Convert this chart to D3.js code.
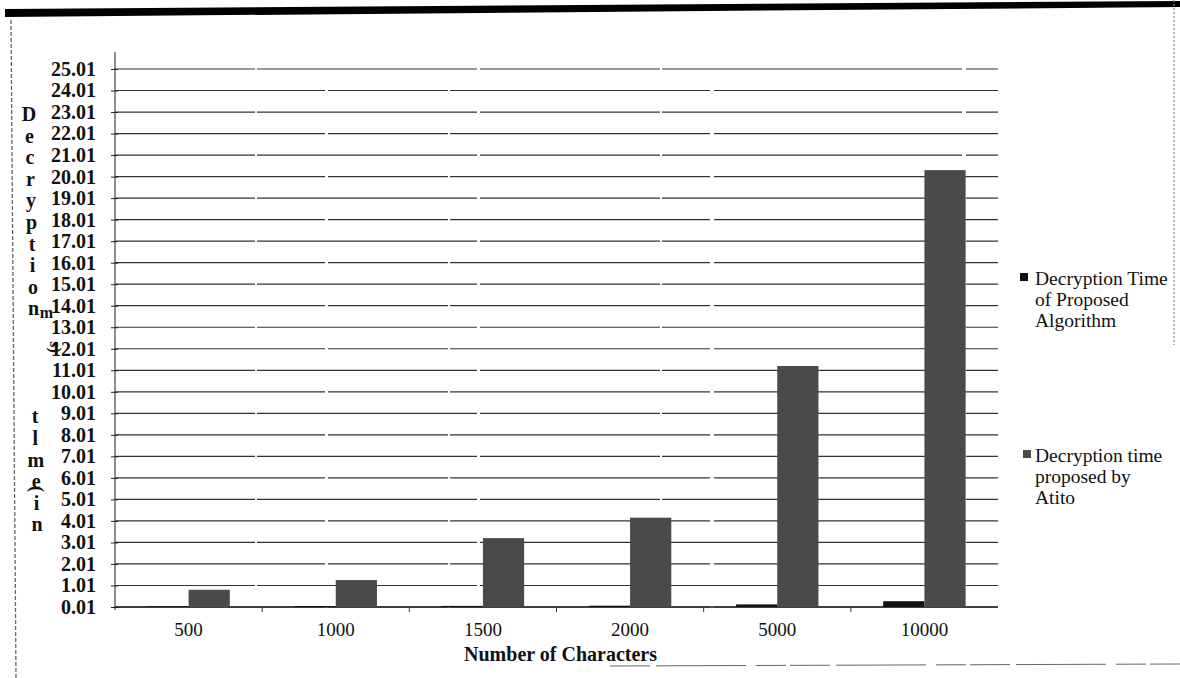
<!DOCTYPE html>
<html>
<head>
<meta charset="utf-8">
<script src="https://cdn.jsdelivr.net/npm/d3@7"></script>
<style>
  html, body { margin: 0; padding: 0; background: #fff; }
  svg { display: block; }
  text { font-family: "Liberation Serif", "Times New Roman", serif; fill: #111; }
</style>
</head>
<body>
<svg id="chart" width="1180" height="678"></svg>
<script>
// ---- data ----
const categories = ["500", "1000", "1500", "2000", "5000", "10000"];
const proposedValues = [0.03, 0.04, 0.05, 0.06, 0.12, 0.27];
const atitoValues = [0.8, 1.25, 3.2, 4.15, 11.2, 20.3];
const seriesNames = ["Decryption Time of Proposed Algorithm", "Decryption time proposed by Atito"];
const legendLines = [["Decryption Time", "of Proposed", "Algorithm"], ["Decryption time", "proposed by", "Atito"]];
const yTickValues = d3.range(0, 26).map(i => i + 0.01);
const yTickLabels = yTickValues.map(v => v.toFixed(2));
const yTitleLetters = ["D","e","c","r","y","p","t","i","o","n","","","","","t","l","m","e","i","n"];
const xTitle = "Number of Characters";

const svg = d3.select("#chart");

// scan frame decoration
svg.append("polygon").attr("points", "5,9 1180,1 1180,7 5,17").attr("fill", "#000");
svg.append("line").attr("x1", 11).attr("y1", 20).attr("x2", 16).attr("y2", 678)
  .attr("stroke", "#666").attr("stroke-width", 1.3).attr("stroke-dasharray", "4 2");
svg.append("line").attr("x1", 1174).attr("y1", 0).attr("x2", 1174).attr("y2", 345)
  .attr("stroke", "#888").attr("stroke-width", 1.2).attr("stroke-dasharray", "2 2");
svg.append("line").attr("x1", 610).attr("y1", 666).attr("x2", 1180).attr("y2", 664)
  .attr("stroke", "#666").attr("stroke-width", 1).attr("stroke-dasharray", "40 6 90 10 30 4");

const pLeft = 115, pRight = 998, pTop = 69, pBottom = 607;

const x0 = d3.scaleBand().domain(categories).range([pLeft, pRight]).paddingInner(0.44).paddingOuter(0.22);
const x1 = d3.scaleBand().domain([0, 1]).range([0, x0.bandwidth()]);
const y = d3.scaleLinear().domain([0.01, 25.01]).range([pBottom, pTop]);
const xBound = d3.scaleBand().domain(categories).range([pLeft, pRight]);

// gridlines
svg.append("g").selectAll("line").data(yTickValues).join("line")
  .attr("x1", pLeft).attr("x2", pRight)
  .attr("y1", d => y(d)).attr("y2", d => y(d))
  .attr("stroke", "#333").attr("stroke-width", 1.2)
  .attr("stroke-dasharray", (d, i) => i % 2 ? "140 2 220 3 180 2 300 4" : "210 3 120 2 260 4 330 2");

// y axis
const yAxis = d3.axisLeft(y).tickValues(yTickValues).tickFormat((d, i) => yTickLabels[i]).tickSize(5).tickPadding(14);
const yg = svg.append("g").attr("transform", `translate(${pLeft},0)`).call(yAxis);
yg.select(".domain").attr("stroke", "#444").attr("stroke-width", 1.2).attr("d", `M0,${pTop - 17}V${pBottom + 3}`);
yg.selectAll(".tick line").attr("stroke", "#222").attr("x2", -4).attr("x1", 3);
yg.selectAll(".tick text").attr("font-family", "Liberation Serif").attr("font-weight", "bold")
  .attr("font-size", 20).attr("fill", "#111");

// x axis
const xAxis = d3.axisBottom(x0).tickSize(0).tickPadding(16);
const xg = svg.append("g").attr("transform", `translate(0,${pBottom})`).call(xAxis);
xg.select(".domain").attr("stroke", "#222").attr("stroke-width", 1.3).attr("d", `M${pLeft},0H${pRight}`);
xg.selectAll(".tick text").attr("font-family", "Liberation Serif").attr("font-size", 19).attr("fill", "#111");
// category boundary ticks
svg.append("g").selectAll("line").data(categories.slice(1)).join("line")
  .attr("x1", d => xBound(d)).attr("x2", d => xBound(d))
  .attr("y1", pBottom).attr("y2", pBottom + 5).attr("stroke", "#333");

// bars
const colors = ["#111", "#4a4a4a"];
const groups = svg.append("g").selectAll("g").data(categories).join("g")
  .attr("transform", d => `translate(${x0(d)},0)`);
groups.selectAll("rect").data((d, i) => [proposedValues[i], atitoValues[i]]).join("rect")
  .attr("x", (d, j) => x1(j)).attr("width", x1.bandwidth())
  .attr("y", d => y(d + 0.01)).attr("height", d => y(0.01) - y(d + 0.01))
  .attr("fill", (d, j) => colors[j]);

// x title
svg.append("text").attr("x", (pLeft + pRight) / 2 + 4).attr("y", 661).attr("text-anchor", "middle")
  .attr("font-weight", "bold").attr("font-size", 20).text(xTitle);

// y title, stacked letters
svg.append("g").selectAll("text").data(yTitleLetters).join("text")
  .attr("x", (d, i) => i < 10 ? 29 + i * 0.5 : 35 + (i - 14) * 0.4)
  .attr("y", (d, i) => 121 + i * 21.6)
  .attr("text-anchor", "middle").attr("font-weight", "bold").attr("font-size", 20).text(d => d);
// mangled "(ms)" fragments of the title
svg.append("text").attr("x", 37).attr("y", 495).attr("text-anchor", "middle")
  .attr("font-weight", "bold").attr("font-size", 18).attr("transform", "rotate(90,37,489)").text("(");
svg.append("text").attr("x", 46.5).attr("y", 318).attr("text-anchor", "middle")
  .attr("font-weight", "bold").attr("font-size", 16).text("m");
svg.append("text").attr("x", 56).attr("y", 353).attr("text-anchor", "middle")
  .attr("font-weight", "bold").attr("font-size", 16).attr("transform", "rotate(90,56,347)").text("s)");

// legend
const legendPos = [{x: 1020, y: 285}, {x: 1023, y: 462}];
seriesNames.forEach((name, k) => {
  const g = svg.append("g").attr("class", "legend");
  g.append("rect").attr("x", legendPos[k].x).attr("y", legendPos[k].y - 12)
    .attr("width", 8).attr("height", 8).attr("fill", colors[k]);
  g.selectAll("text").data(legendLines[k]).join("text")
    .attr("x", 1035).attr("y", (d, i) => legendPos[k].y + i * 20.8)
    .attr("font-size", 19.5).text(d => d);
});
</script>
</body>
</html>
